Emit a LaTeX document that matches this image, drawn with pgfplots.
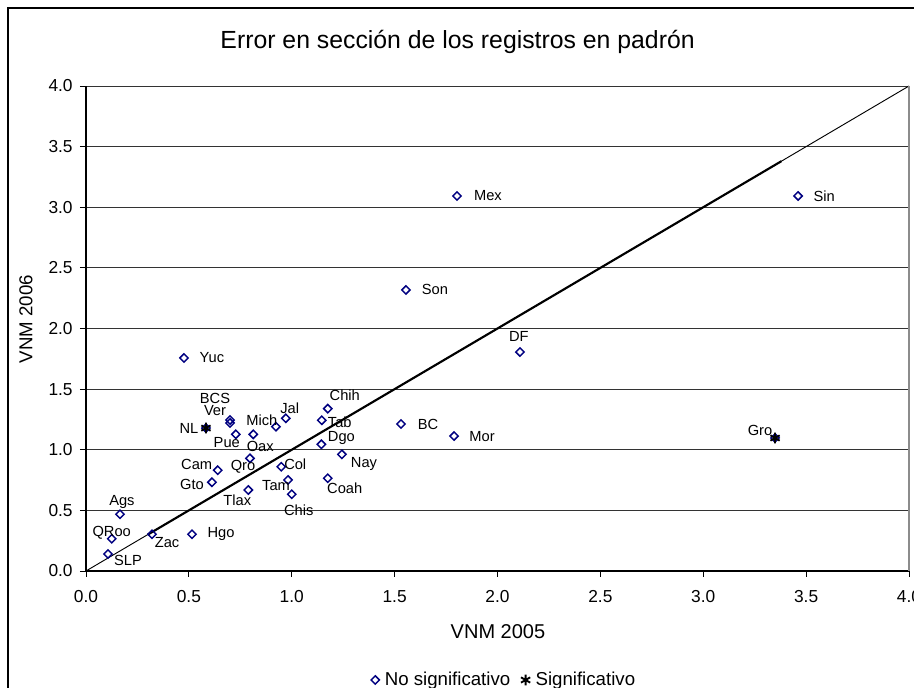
\documentclass[border=0pt]{standalone}
\usepackage{pgfplots}
\usepackage{pgfplotstable}
\pgfplotsset{compat=1.18}
\usepackage{fontspec}
\setmainfont{Liberation Sans}
\definecolor{navy}{RGB}{0,0,128}

% x = VNM 2005, y = VNM 2006; dx, dy = label offset in px (y down)
\pgfplotstableread{
x     y     lab   dx   dy
1.803 3.093 Mex   31   0
3.461 3.093 Sin   26   0
1.555 2.318 Son   29   0
2.109 1.806 DF    -1  -16
0.476 1.757 Yuc   28   0
1.531 1.212 BC    27   0
1.789 1.113 Mor   28   0
0.700 1.245 BCS  -15  -22
0.700 1.221 Ver  -15  -12
0.728 1.127 Pue   -9   8
0.813 1.127 Oax    7   12
0.923 1.190 Mich -14  -6
0.971 1.259 Jal    4  -10
1.175 1.339 Chih  17  -13
1.146 1.243 Tab   18   2
1.144 1.045 Dgo   20  -6
1.244 0.962 Nay   22   10
1.175 0.765 Coah  17   10
0.949 0.860 Col   14  -2
0.982 0.751 Tam  -12   6
1.000 0.633 Chis   7   16
0.797 0.929 Qro   -7   8
0.789 0.668 Tlax -11   10
0.640 0.831 Cam  -21  -6
0.612 0.732 Gto  -20   2
0.165 0.468 Ags    2  -12
0.125 0.266 QRoo   0  -6
0.107 0.140 SLP   20   6
0.321 0.303 Zac   15   8
0.515 0.303 Hgo   29   0
}\nosig

\pgfplotstableread{
x     y     lab   dx   dy
0.583 1.179 NL   -17   0
3.349 1.097 Gro  -15  -8
}\sig

\begin{document}
\begin{tikzpicture}
\begin{axis}[
    at={(0,0)}, anchor=south west,
    scale only axis,
    width=617.25pt, height=363.75pt,
    xmin=0, xmax=4, ymin=0, ymax=4,
    xtick={0,0.5,...,4}, ytick={0,0.5,...,4},
    axis x line*=bottom, axis y line*=left,
    axis line style={black, line width=0.8pt},
    ymajorgrids,
    grid style={black!80, line width=0.6pt},
    tick align=outside,
    major tick length=4.5pt,
    tick style={black, line width=0.6pt},
    /pgf/number format/assume math mode=true,
    /pgf/number format/.cd, fixed, fixed zerofill, precision=1, /pgfplots/.cd,
    ticklabel style={font=\fontsize{13}{15}\selectfont},
    xticklabel style={yshift=-6.5pt},
    yticklabel style={xshift=-2pt},
    title={Error en sección de los registros en padrón},
    every axis title shift=0pt,
    title style={at={(axis description cs:0.4515,1.0907)}, anchor=center,
                 font=\fontsize{18.6}{21}\selectfont},
    xlabel={VNM 2005},
    ylabel={VNM 2006},
    x label style={at={(axis description cs:0.5006,-0.1258)}, anchor=center,
                   font=\fontsize{15}{17}\selectfont},
    y label style={at={(axis description cs:-0.0729,0.5196)}, anchor=center,
                   font=\fontsize{14}{16}\selectfont},
    legend style={at={(axis description cs:0.5085,-0.2247)}, anchor=center,
                  draw=none, fill=none, legend columns=-1,
                  font=\fontsize{14}{16}\selectfont,
                  /tikz/every even column/.append style={column sep=6pt},
                  /tikz/every odd column/.append style={column sep=2pt}},
    legend cell align=left,
    clip=false,
]
% diagonal reference line and trend segment
\addplot[black, line width=0.7pt, forget plot] coordinates {(0,0) (4,4)};
\addplot[black, line width=1.6pt, forget plot] coordinates {(0.3,0.3) (3.38,3.38)};

% diamonds hidden under the significant points
\addplot[only marks, mark=square, mark size=2.2pt, forget plot,
    mark options={rotate=45, draw=navy, fill=white, line width=1.1pt}]
    table[x=x, y=y] {\sig};

\addplot[
    only marks, mark=square, mark size=2.2pt,
    mark options={rotate=45, draw=navy, fill=white, line width=1.1pt},
    point meta=explicit symbolic,
    nodes near coords,
    visualization depends on={\thisrow{dx}\as\lbx},
    visualization depends on={\thisrow{dy}\as\lby},
    every node near coord/.append style={anchor=center, inner sep=0pt,
        xshift=\lbx*0.75pt, yshift=-\lby*0.75pt,
        font=\fontsize{11}{13}\selectfont, text=black},
] table[x=x, y=y, meta=lab] {\nosig};
\addlegendentry{No significativo}

\addplot[
    only marks, mark=asterisk, mark size=4pt,
    mark options={draw=black, line width=1.4pt},
    point meta=explicit symbolic,
    nodes near coords,
    visualization depends on={\thisrow{dx}\as\lbx},
    visualization depends on={\thisrow{dy}\as\lby},
    every node near coord/.append style={anchor=center, inner sep=0pt,
        xshift=\lbx*0.75pt, yshift=-\lby*0.75pt,
        font=\fontsize{11}{13}\selectfont, text=black},
] table[x=x, y=y, meta=lab] {\sig};
\addlegendentry{Significativo}

% plot area right border
\draw[black!45, line width=0.8pt] (rel axis cs:1,0) -- (rel axis cs:1,1);
\end{axis}
\pgfresetboundingbox
\useasboundingbox (-64.5pt,-87.75pt) rectangle (621pt,428.25pt);
\draw[black, line width=0.8pt] (-58.5pt,-120pt) rectangle (660pt,422.25pt);
\end{tikzpicture}
\end{document}
